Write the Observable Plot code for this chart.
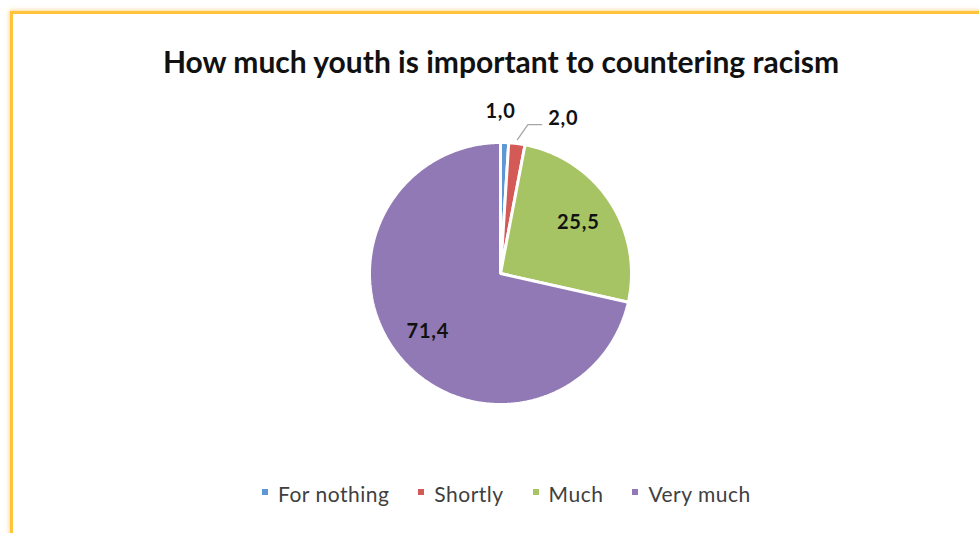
<!DOCTYPE html>
<html>
<head>
<meta charset="utf-8">
<script src="https://cdn.jsdelivr.net/npm/d3@7"></script>
<script src="https://cdn.jsdelivr.net/npm/@observablehq/plot@0.6"></script>
<style>
  html, body { margin: 0; padding: 0; background: #fff; }
  #wrap { position: relative; width: 979px; height: 533px; overflow: hidden; background: #fff; }
  #frame { position: absolute; left: 10px; top: 11px; width: 2000px; height: 2000px;
           border-top: 3px solid #ffc43a; border-left: 3px solid #ffc43a;
           box-shadow: -1px -1px 4px rgba(255, 190, 90, 0.6); }
  #chart { position: absolute; left: 0; top: 0; }
  #chart text { letter-spacing: 0.8px; }
  #title { position: absolute; left: 0; width: 1002px; top: 46px; text-align: center;
           font-family: Lato, sans-serif; font-weight: bold; font-size: 30px; line-height: 30px; color: #111; white-space: nowrap; }
  #legend { position: absolute; left: 262px; top: 484px; display: flex; align-items: center;
            font-family: Lato, sans-serif; font-size: 21px; line-height: 20px; letter-spacing: 0.5px; color: #404040; white-space: nowrap; }
  #legend .item { display: flex; align-items: center; margin-right: 29px; }
  #legend .sw { width: 6px; height: 6px; margin-right: 10px; position: relative; top: -2px; }
</style>
</head>
<body>
<div id="wrap">
  <div id="frame"></div>
  <div id="chart"></div>
  <div id="title"></div>
  <div id="legend"></div>
</div>
<script>
const title = "How much youth is important to countering racism";
const categories = ["For nothing", "Shortly", "Much", "Very much"];
const values = [1.0, 2.0, 25.5, 71.4];
const valueLabels = ["1,0", "2,0", "25,5", "71,4"];
const colors = ["#5e98d4", "#d45a57", "#a6c463", "#9079b4"];

document.getElementById("title").textContent = title;

const arcs = d3.pie().sort(null).value(d => d)(values);

function polar(angle, r) { return {x: r * Math.sin(angle), y: r * Math.cos(angle)}; }

const marks = [];
arcs.forEach((a, i) => {
  const n = Math.max(2, Math.ceil((a.endAngle - a.startAngle) / 0.01));
  const pts = [{x: 0, y: 0}];
  for (let j = 0; j <= n; j++) {
    pts.push(polar(a.startAngle + (a.endAngle - a.startAngle) * j / n, 1));
  }
  marks.push(Plot.line(pts, {x: "x", y: "y", fill: colors[i], stroke: "white", strokeWidth: 3,
    strokeLinejoin: "miter", curve: "linear-closed"}));
});

const mid = a => (a.startAngle + a.endAngle) / 2;
const labelFont = {fontSize: 20, fontWeight: "bold", fill: "#111", fontFamily: "Lato, sans-serif"};

// inside labels (Much, Very much)
const inside = arcs.map((a, i) => ({...polar(mid(a), 0.71), t: valueLabels[i], i})).filter(d => d.i >= 2);
marks.push(Plot.text(inside, {x: "x", y: "y", text: "t", ...labelFont}));

// outside label for "For nothing"
const blue = {...polar(mid(arcs[0]), 1.237), t: valueLabels[0]};
marks.push(Plot.text([blue], {x: "x", y: "y", text: "t", dx: -5, ...labelFont}));

// outside label with leader line for "Shortly"
const s0 = polar(mid(arcs[1]), 1.03);
const leader = [s0, {x: s0.x + 0.08, y: s0.y + 0.115}, {x: s0.x + 0.185, y: s0.y + 0.115}];
marks.push(Plot.line(leader, {x: "x", y: "y", stroke: "#a6a6a6", strokeWidth: 1.3}));
const red = {x: leader[2].x + 0.165, y: leader[2].y + 0.045, t: valueLabels[1]};
marks.push(Plot.text([red], {x: "x", y: "y", text: "t", ...labelFont}));

const chart = Plot.plot({
  width: 979, height: 533,
  margin: 0,
  style: {background: "transparent", overflow: "visible"},
  x: {domain: [-1, 1], range: [369, 631], axis: null},
  y: {domain: [-1, 1], range: [404, 142], axis: null},
  marks
});
document.getElementById("chart").appendChild(chart);

const legend = document.getElementById("legend");
categories.forEach((c, i) => {
  const item = document.createElement("div");
  item.className = "item";
  const sw = document.createElement("span");
  sw.className = "sw";
  sw.style.background = colors[i];
  const tx = document.createElement("span");
  tx.textContent = c;
  item.appendChild(sw); item.appendChild(tx);
  legend.appendChild(item);
});
</script>
</body>
</html>
